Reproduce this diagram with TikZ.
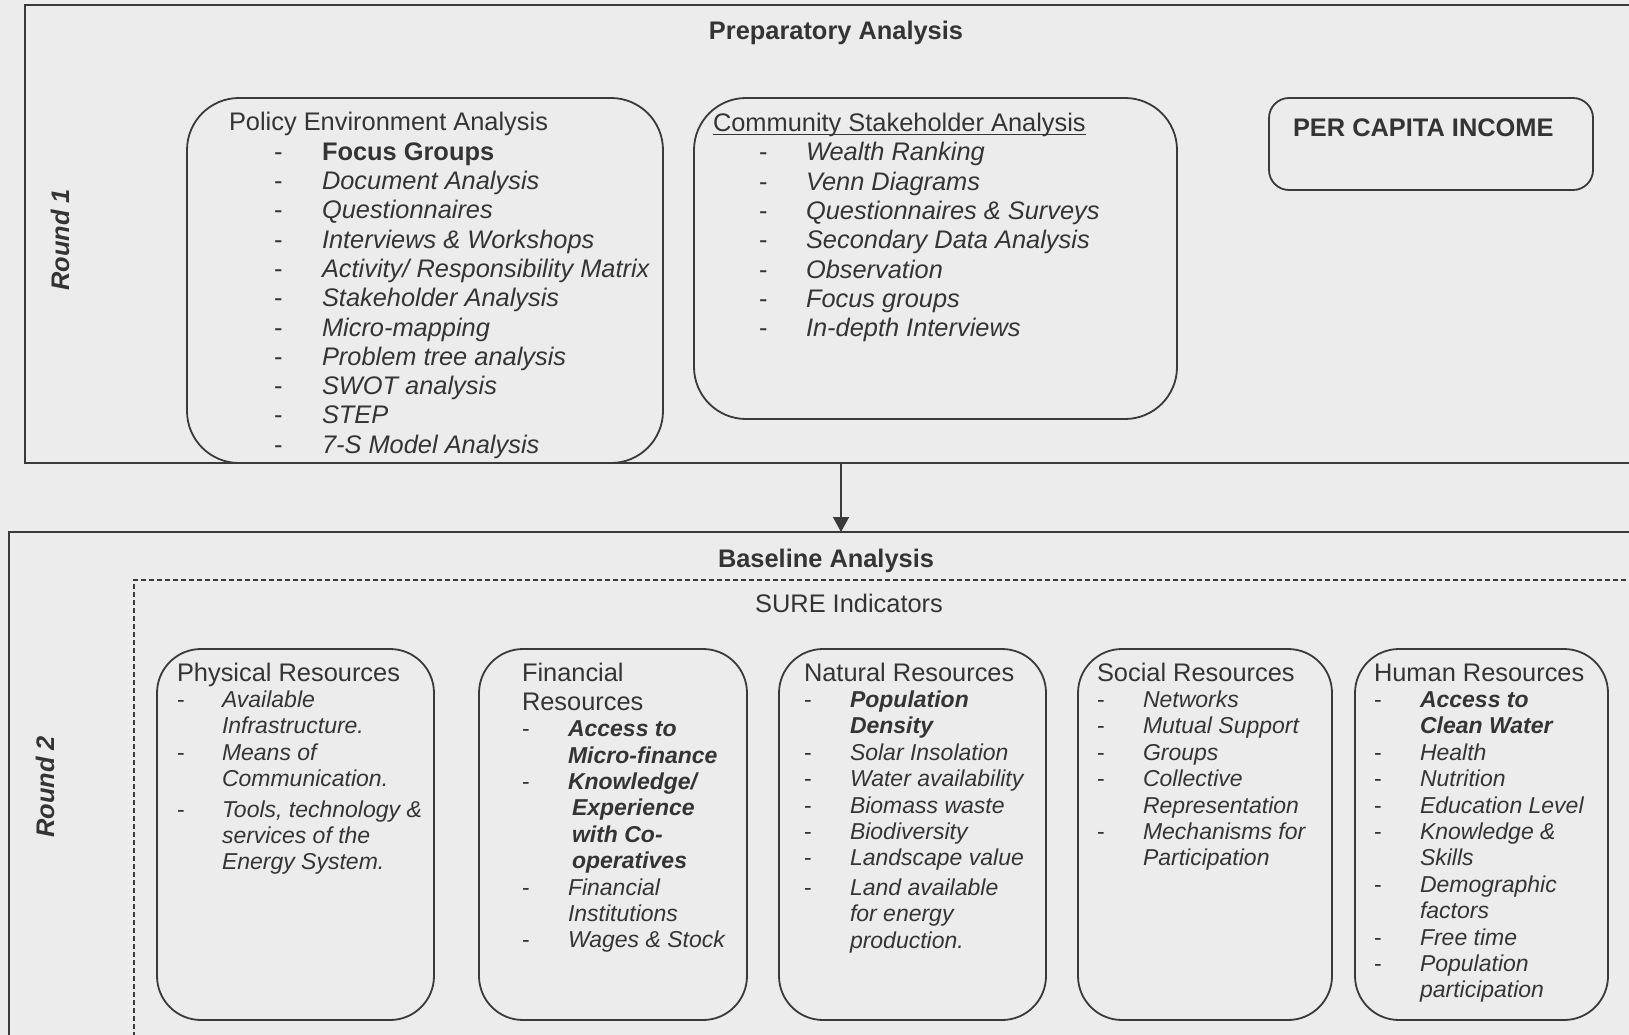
\documentclass[tikz,border=0pt]{standalone}
\usepackage{fontspec}
\setmainfont{Liberation Sans}
\usetikzlibrary{arrows.meta}
\definecolor{bgc}{RGB}{236,236,236}
\definecolor{ink}{RGB}{52,52,52}
\definecolor{lc}{RGB}{58,58,58}
\newcommand{\bigf}{\fontsize{25.4}{29.3}\selectfont}
\newcommand{\smf}{\fontsize{23}{26.4}\selectfont}
\newlength\dO \newlength\tO
\newcommand{\TL}[1]{\hbox{#1}}
\newcommand{\IT}[1]{\hbox{\hspace*{\dO}\makebox[\dimexpr\tO-\dO\relax][l]{\upshape\mdseries -}#1}}
\newcommand{\CT}[1]{\hbox{\hspace*{\tO}#1}}
\newcommand{\myul}[1]{\setbox0\hbox{#1}\rlap{\rule[-3.5pt]{\wd0}{1.3pt}}\box0}
\tikzset{
  frame/.style={draw=lc, line width=1.8pt, inner sep=0, outer sep=0, anchor=north west},
  rbox/.style={draw=lc, line width=1.8pt, rounded corners=#1, inner sep=0, outer sep=0, anchor=north west},
  rbox/.default=44pt,
  txt/.style={anchor=base west, inner sep=0, outer sep=0, text=ink},
  head/.style={anchor=base, inner sep=0, outer sep=0, text=ink, font=\bigf\bfseries},
  rlab/.style={rotate=90, inner sep=0, text=ink, font=\bigf\bfseries\itshape},
  arr/.style={draw=lc, line width=1.6pt, -{Triangle[length=15pt,width=16pt]}}
}
\begin{document}
\begin{tikzpicture}[x=1pt,y=-1pt]
\path[use as bounding box] (0,0) rectangle (1629,1035);
\clip (0,0) rectangle (1629,1035);
\fill[bgc] (0,0) rectangle (1629,1035);

% ---------- Round 1 ----------
\node[frame, minimum width=1700pt, minimum height=458pt] (prep) at (25,5) {};
\node[head] (prepT) at (836,40) {Preparatory Analysis};
\node[rlab] (r1) at (60,240) {Round 1};

\node[rbox=52pt, minimum width=476pt, minimum height=365pt] (polbox) at (187,98) {};
\node[txt] (pol) at (229,131) {\vtop{\bigf\setlength\dO{45pt}\setlength\tO{93pt}\lineskiplimit=-100pt
  \TL{Policy Environment Analysis}
  \itshape
  \IT{\upshape\bfseries Focus Groups}
  \IT{Document Analysis}
  \IT{Questionnaires}
  \IT{Interviews \& Workshops}
  \IT{Activity/ Responsibility Matrix}
  \IT{Stakeholder Analysis}
  \IT{Micro-mapping}
  \IT{Problem tree analysis}
  \IT{SWOT analysis}
  \IT{STEP}
  \IT{7-S Model Analysis}}};

\node[rbox=52pt, minimum width=483pt, minimum height=321pt] (combox) at (694,98) {};
\node[txt] (com) at (713,131.6) {\vtop{\bigf\setlength\dO{46pt}\setlength\tO{93pt}\lineskiplimit=-100pt
  \TL{\myul{Community Stakeholder Analysis}}
  \itshape
  \IT{Wealth Ranking}
  \IT{Venn Diagrams}
  \IT{Questionnaires \& Surveys}
  \IT{Secondary Data Analysis}
  \IT{Observation}
  \IT{Focus groups}
  \IT{In-depth Interviews}}};

\node[rbox=20pt, minimum width=324pt, minimum height=92pt] (pcibox) at (1269,98) {};
\node[txt, font=\bigf\bfseries] (pci) at (1293,137) {PER CAPITA INCOME};

% ---------- Round 2 ----------
\node[frame, minimum width=1700pt, minimum height=600pt] (base) at (9,532) {};
\node[head] (baseT) at (826,567) {Baseline Analysis};
\node[frame, dash pattern=on 5pt off 3pt, line width=1.1pt, minimum width=1600pt, minimum height=500pt] (sure) at (134,580) {};
\node[head, font=\bigf] (sureT) at (849,612) {SURE Indicators};
\node[rlab] (r2) at (45,787) {Round 2};

\coordinate (ax) at (841,0);
\draw[arr] (prep.south -| ax) -- (base.north -| ax);

\node[rbox, minimum width=277pt, minimum height=371pt] (physbox) at (157,649) {};
\node[txt] (phys) at (177,681) {\vtop{\bigf\setlength\dO{0pt}\setlength\tO{45pt}\lineskiplimit=-100pt
  \TL{Physical Resources}
  \smf\itshape
  \IT{Available}
  \CT{Infrastructure.}
  \IT{Means of}
  \CT{Communication.}
  \vskip4pt
  \IT{Tools, technology \&}
  \CT{services of the}
  \CT{Energy System.}}};

\node[rbox, minimum width=268pt, minimum height=371pt] (finbox) at (479,649) {};
\node[txt] (fin) at (522,681) {\vtop{\bigf\setlength\dO{0pt}\setlength\tO{46pt}\lineskiplimit=-100pt
  \TL{Financial}
  \TL{Resources}
  \smf\itshape
  \IT{\bfseries Access to}
  \CT{\bfseries Micro-finance}
  \IT{\bfseries Knowledge/}
  \CT{\bfseries\hspace*{4pt}Experience}
  \CT{\bfseries\hspace*{4pt}with Co-}
  \CT{\bfseries\hspace*{4pt}operatives}
  \IT{Financial}
  \CT{Institutions}
  \IT{Wages \& Stock}}};

\node[rbox, minimum width=267pt, minimum height=371pt] (natbox) at (779,649) {};
\node[txt] (nat) at (804,681) {\vtop{\bigf\setlength\dO{0pt}\setlength\tO{46pt}\lineskiplimit=-100pt
  \TL{Natural Resources}
  \smf\itshape
  \IT{\bfseries Population}
  \CT{\bfseries Density}
  \IT{Solar Insolation}
  \IT{Water availability}
  \IT{Biomass waste}
  \IT{Biodiversity}
  \IT{Landscape value}
  \vskip3pt
  \IT{Land available}
  \CT{for energy}
  \CT{production.}}};

\node[rbox, minimum width=254pt, minimum height=371pt] (socbox) at (1078,649) {};
\node[txt] (soc) at (1097,681) {\vtop{\bigf\setlength\dO{0pt}\setlength\tO{46pt}\lineskiplimit=-100pt
  \TL{Social Resources}
  \smf\itshape
  \IT{Networks}
  \IT{Mutual Support}
  \IT{Groups}
  \IT{Collective}
  \CT{Representation}
  \IT{Mechanisms for}
  \CT{Participation}}};

\node[rbox, minimum width=253pt, minimum height=371pt] (humbox) at (1355,649) {};
\node[txt] (hum) at (1374,681) {\vtop{\bigf\setlength\dO{0pt}\setlength\tO{46pt}\lineskiplimit=-100pt
  \TL{Human Resources}
  \smf\itshape
  \IT{\bfseries Access to}
  \CT{\bfseries Clean Water}
  \IT{Health}
  \IT{Nutrition}
  \IT{Education Level}
  \IT{Knowledge \&}
  \CT{Skills}
  \IT{Demographic}
  \CT{factors}
  \IT{Free time}
  \IT{Population}
  \CT{participation}}};
\end{tikzpicture}
\end{document}
